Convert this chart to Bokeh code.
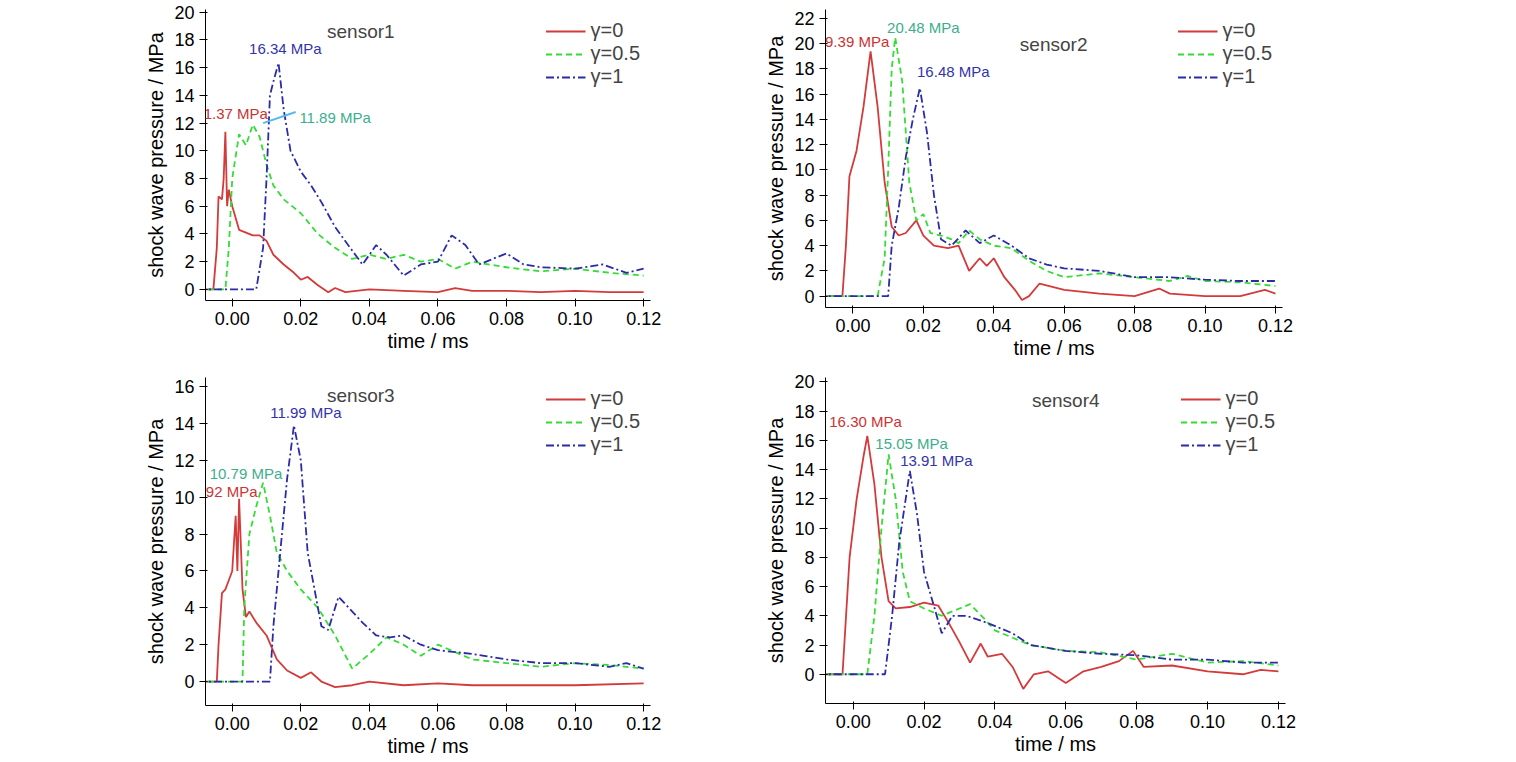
from bokeh.plotting import figure
from bokeh.layouts import column, row
from bokeh.models import Range1d, Label, FixedTicker, Legend, LegendItem
from bokeh.embed import file_html
from bokeh.resources import INLINE

# sensor1
s1_x0=[-0.01,-0.0055,-0.0045,-0.004,-0.003,-0.0025,-0.002,-0.0015,-0.001,0,0.002,0.006,0.008,0.01,0.012,0.015,0.018,0.02,0.022,0.025,0.028,0.03,0.033,0.04,0.05,0.06,0.065,0.07,0.08,0.09,0.1,0.11,0.12]
s1_y0=[0,0,3,6.7,6.5,8,11.37,6,7.2,6,4.3,3.9,3.9,3.5,2.5,1.8,1.2,0.7,0.9,0.3,-0.2,0.1,-0.2,0,-0.1,-0.2,0.1,-0.1,-0.1,-0.2,-0.1,-0.2,-0.2]
s1_x5=[-0.01,-0.002,-0.001,0,0.002,0.004,0.006,0.008,0.01,0.012,0.015,0.02,0.025,0.03,0.035,0.04,0.045,0.05,0.055,0.06,0.065,0.07,0.08,0.09,0.1,0.11,0.12]
s1_y5=[0,0,3,8,11.2,10.4,11.89,11,9,7.5,6.5,5.5,4,3,2.2,2.5,2.2,2.5,2.0,2.2,1.5,2,1.6,1.3,1.5,1.2,1.0]
s1_x1=[-0.01,0.007,0.009,0.01,0.011,0.012,0.0135,0.015,0.017,0.02,0.023,0.026,0.03,0.035,0.038,0.042,0.045,0.05,0.055,0.06,0.064,0.068,0.072,0.08,0.085,0.09,0.1,0.108,0.115,0.12]
s1_y1=[0,0,3,8,14,15,16.34,13,10,8.5,7.5,6.3,4.5,2.8,1.8,3.2,2.5,1.0,1.8,2,3.9,3.2,1.8,2.6,1.8,1.6,1.5,1.8,1.2,1.5]
# sensor2
s2_x0=[-0.01,-0.003,-0.002,-0.001,0.001,0.003,0.005,0.007,0.009,0.011,0.013,0.015,0.018,0.02,0.023,0.027,0.03,0.033,0.036,0.038,0.04,0.043,0.046,0.048,0.05,0.053,0.06,0.07,0.08,0.087,0.09,0.1,0.11,0.117,0.12]
s2_y0=[0,0,4,9.5,11.5,15,19.39,15,9,5.5,4.8,5.0,6.0,4.8,4.0,3.8,4.0,2.0,3.0,2.4,3.0,1.5,0.5,-0.3,0,1.0,0.5,0.2,0,0.6,0.2,0,0,0.5,0.2]
s2_x5=[-0.01,0.007,0.009,0.01,0.011,0.012,0.014,0.016,0.018,0.02,0.022,0.025,0.028,0.03,0.033,0.036,0.04,0.045,0.05,0.055,0.06,0.07,0.08,0.09,0.095,0.1,0.11,0.12]
s2_y5=[0,0,3,10,18,20.48,17,9,6,6.5,5,4.8,4.5,4.2,5.2,4.5,4.0,3.8,2.8,2.0,1.5,1.8,1.5,1.2,1.6,1.2,1.1,0.8]
s2_x1=[-0.01,0.01,0.011,0.013,0.015,0.017,0.019,0.021,0.023,0.025,0.028,0.032,0.036,0.04,0.045,0.05,0.055,0.06,0.07,0.08,0.09,0.1,0.11,0.12]
s2_y1=[0,0,4,7,11,14,16.48,13,8,4.5,4.0,5.2,4.2,4.8,4.0,3.0,2.5,2.2,2.0,1.5,1.5,1.3,1.2,1.2]
# sensor3
s3_x0=[-0.01,-0.0045,-0.004,-0.003,-0.002,-0.001,0,0.001,0.0015,0.002,0.003,0.004,0.005,0.007,0.01,0.013,0.016,0.02,0.023,0.026,0.03,0.035,0.04,0.05,0.06,0.07,0.08,0.1,0.12]
s3_y0=[0,0,2,4.8,5,5.5,6,9,6,9.92,5,3.5,3.8,3.2,2.5,1.2,0.6,0.2,0.5,0,-0.3,-0.2,0,-0.2,-0.1,-0.2,-0.2,-0.2,-0.1]
s3_x5=[-0.01,0.003,0.0035,0.005,0.007,0.009,0.011,0.013,0.016,0.02,0.025,0.03,0.035,0.04,0.045,0.05,0.055,0.06,0.065,0.07,0.08,0.09,0.1,0.11,0.12]
s3_y5=[0,0,4,8,9.5,10.79,9,7,6,5,4,2.5,0.7,1.5,2.4,2.0,1.4,2.0,1.6,1.2,1.0,0.8,1.0,0.9,0.7]
s3_x1=[-0.01,0.011,0.012,0.014,0.016,0.018,0.02,0.022,0.024,0.026,0.028,0.031,0.034,0.038,0.042,0.046,0.05,0.055,0.06,0.07,0.08,0.09,0.1,0.11,0.115,0.12]
s3_y1=[0,0,3,7,11,13.9,12,7,5,3,2.8,4.6,4.0,3.2,2.5,2.4,2.5,2.0,1.7,1.5,1.2,1.0,1.0,0.8,1.0,0.7]
# sensor4
s4_x0=[-0.01,-0.003,-0.002,-0.001,0.001,0.003,0.004,0.006,0.008,0.01,0.012,0.016,0.02,0.024,0.027,0.03,0.033,0.036,0.038,0.042,0.045,0.048,0.051,0.055,0.06,0.065,0.07,0.075,0.079,0.082,0.09,0.1,0.11,0.115,0.12]
s4_y0=[0,0,4,8,12,15,16.3,13,8,5,4.5,4.6,4.9,4.7,3.5,2.2,0.8,2.1,1.2,1.4,0.5,-1.0,0,0.2,-0.6,0.2,0.5,0.9,1.6,0.5,0.6,0.2,0,0.3,0.2]
s4_x5=[-0.01,0.004,0.006,0.008,0.01,0.012,0.014,0.016,0.02,0.025,0.03,0.033,0.037,0.04,0.045,0.05,0.06,0.07,0.08,0.09,0.1,0.11,0.12]
s4_y5=[0,0,4,10,15.05,12,7,5,4.5,4.0,4.5,4.8,3.8,3.0,2.5,2.0,1.6,1.5,1.0,1.4,0.8,0.9,0.6]
s4_x1=[-0.01,0.009,0.011,0.013,0.016,0.018,0.02,0.023,0.025,0.028,0.032,0.038,0.045,0.05,0.06,0.07,0.08,0.09,0.1,0.11,0.12]
s4_y1=[0,0,4,9,13.91,11,7,4.5,2.8,4.0,4.0,3.5,2.8,2.0,1.6,1.4,1.3,1.0,1.0,0.8,0.8]

RED="#d43a3a"; GRN="#33dd33"; BLU="#2b2ba8"
LRED="#cc3333"; LGRN="#3cae8e"; LBLU="#3333aa"
FONT="Liberation Sans"

def panel(title, data, ymin, ymax, yticks, fw, fh, bl, br, bt, bb, labels, tx, ty):
    p = figure(frame_width=fw, frame_height=fh, x_range=Range1d(-0.0078, 0.122),
               y_range=Range1d(ymin, ymax), output_backend="svg", toolbar_location=None,
               min_border_left=bl, min_border_right=br, min_border_top=bt, min_border_bottom=bb)
    p.outline_line_color = None
    p.grid.visible = False
    p.xaxis.ticker = FixedTicker(ticks=[0, 0.02, 0.04, 0.06, 0.08, 0.1, 0.12])
    p.xaxis.major_label_overrides = {0: "0.00", 0.02: "0.02", 0.04: "0.04", 0.06: "0.06", 0.08: "0.08", 0.1: "0.10", 0.12: "0.12"}
    p.yaxis.ticker = FixedTicker(ticks=yticks)
    for ax in (p.xaxis[0], p.yaxis[0]):
        ax.minor_tick_line_color = None
        ax.major_label_text_font = FONT
        ax.major_label_text_font_size = "18px"
        ax.axis_label_text_font = FONT
        ax.axis_label_text_font_size = "20px"
        ax.axis_label_text_font_style = "normal"
        ax.major_label_text_color = "black"
        ax.axis_label_text_color = "black"
    p.xaxis.axis_label = "time / ms"
    p.yaxis.axis_label = "shock wave pressure / MPa"
    p.xaxis.axis_label_standoff = 2
    p.yaxis.axis_label_standoff = 4
    (x0, y0), (x5, y5), (x1, y1) = data
    r0 = p.line(x0, y0, line_color=RED, line_width=1.8)
    r5 = p.line(x5, y5, line_color=GRN, line_width=1.8, line_dash="6 4")
    r1 = p.line(x1, y1, line_color=BLU, line_width=1.8, line_dash="8 3 2 3")
    leg = Legend(items=[LegendItem(label="γ=0", renderers=[r0]),
                        LegendItem(label="γ=0.5", renderers=[r5]),
                        LegendItem(label="γ=1", renderers=[r1])],
                 location="top_right", border_line_color=None, background_fill_alpha=0,
                 label_text_font=FONT, label_text_font_size="20px", spacing=-6,
                 glyph_width=40, padding=2, margin=10, label_height=16)
    p.add_layout(leg)
    p.add_layout(Label(x=tx, y=ty, text=title, text_font=FONT, text_font_size="19px",
                       text_align="center", text_baseline="middle"))
    for (lx, ly, txt, col) in labels:
        p.add_layout(Label(x=lx, y=ly, text=txt, text_color=col, text_font=FONT,
                           text_font_size="15px", text_align="center", text_baseline="middle"))
    return p

p1 = panel("sensor1", [(s1_x0, s1_y0), (s1_x5, s1_y5), (s1_x1, s1_y1)], -0.8, 20.2,
           list(range(0, 21, 2)), 445, 291, 205, 20, 9, 62,
           [(0.0, 12.7, "11.37 MPa", LRED), (0.03, 12.4, "11.89 MPa", LGRN),
            (0.0155, 17.4, "16.34 MPa", LBLU)], 0.0375, 18.6)
p1.line([0.009, 0.0185], [12.0, 12.8], line_color="#55bbee", line_width=2)
p2 = panel("sensor2", [(s2_x0, s2_y0), (s2_x5, s2_y5), (s2_x1, s2_y1)], -0.9, 22.7,
           list(range(0, 23, 2)), 457, 298, 155, 20, 5, 62,
           [(0.0, 20.2, "19.39 MPa", LRED), (0.02, 21.3, "20.48 MPa", LGRN),
            (0.0285, 17.8, "16.48 MPa", LBLU)], 0.057, 19.9)
p3 = panel("sensor3", [(s3_x0, s3_y0), (s3_x5, s3_y5), (s3_x1, s3_y1)], -1.3, 16.5,
           list(range(0, 17, 2)), 445, 328, 205, 20, 10, 50,
           [(-0.002, 10.3, "9.92 MPa", LRED), (0.004, 11.3, "10.79 MPa", LGRN),
            (0.0215, 14.6, "11.99 MPa", LBLU)], 0.0375, 15.5)
p4 = panel("sensor4", [(s4_x0, s4_y0), (s4_x5, s4_y5), (s4_x1, s4_y1)], -2.0, 20.3,
           list(range(0, 21, 2)), 460, 326, 155, 20, 12, 50,
           [(0.0035, 17.3, "16.30 MPa", LRED), (0.0165, 15.8, "15.05 MPa", LGRN),
            (0.0235, 14.6, "13.91 MPa", LBLU)], 0.06, 18.7)

lay = column(row(p1, p2), row(p3, p4))
open("out.html", "w").write(file_html(lay, INLINE))
